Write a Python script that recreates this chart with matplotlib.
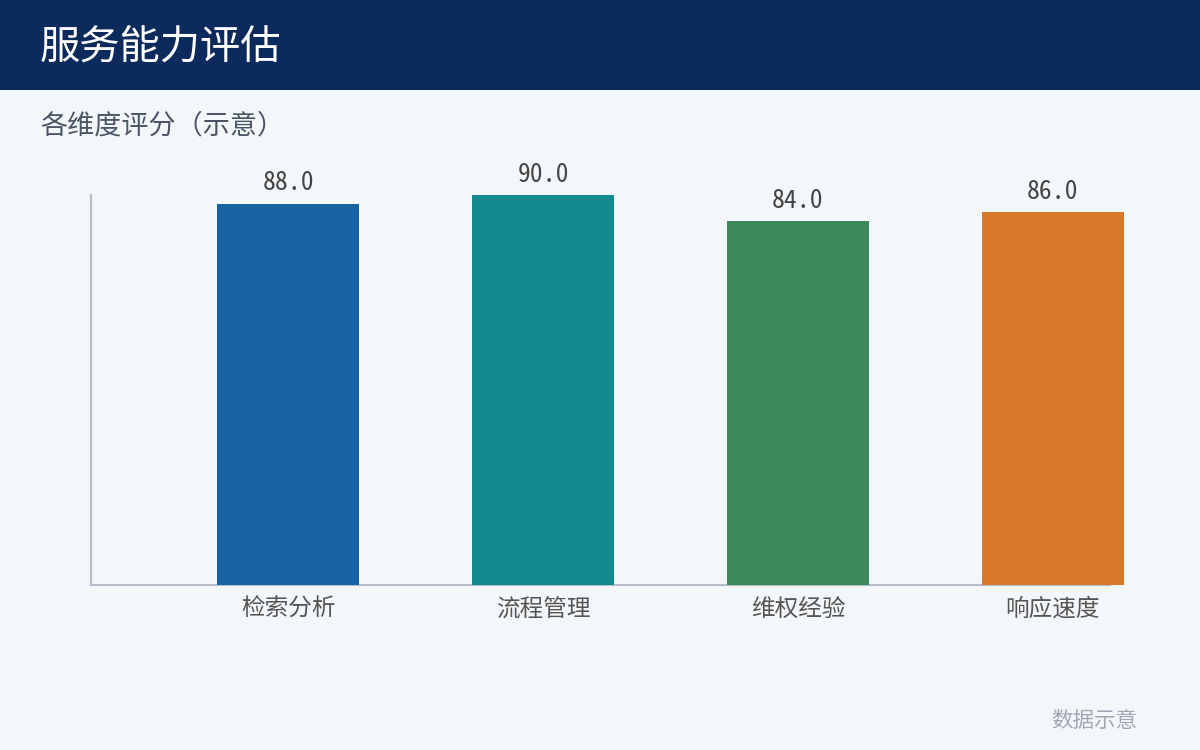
import matplotlib.pyplot as plt
from matplotlib.patches import Rectangle

plt.rcParams['font.family'] = ['Noto Sans CJK SC', 'DejaVu Sans']

# data
categories = ['检索分析', '流程管理', '维权经验', '响应速度']
scores = [88.0, 90.0, 84.0, 86.0]
bar_colors = ['#1763a3', '#138a8e', '#3a8a5a', '#d7782a']

fig = plt.figure(figsize=(12, 7.5), dpi=100)
fig.patch.set_facecolor('#f4f7fa')

# header band
fig.patches.append(Rectangle((0, 1 - 90 / 750), 1, 90 / 750, transform=fig.transFigure,
                             facecolor='#0d2a5c', edgecolor='none', zorder=0))
fig.text(40 / 1200, 1 - 47 / 750, '服务能力评估', color='white', fontsize=29,
         va='center', ha='left')
fig.text(40 / 1200, 1 - 126 / 750, '各维度评分（示意）', color='#4a5566', fontsize=19.5,
         va='center', ha='left')
fig.text(1137 / 1200, 1 - 721 / 750, '数据示意', color='#a0a8b4', fontsize=15.5,
         va='center', ha='right')

ax = fig.add_axes([91 / 1200, 1 - 585 / 750, (1110 - 91) / 1200, (585 - 195) / 750])
ax.set_facecolor('#f4f7fa')

x = range(len(categories))
bars = ax.bar(x, scores, width=0.56, color=bar_colors, zorder=3, clip_on=False)
for b, v in zip(bars, scores):
    ax.annotate(f'{v:.1f}', (b.get_x() + b.get_width() / 2, v), xytext=(0, 6),
                textcoords='offset points', ha='center', va='bottom',
                fontsize=18.5, color='#444444', annotation_clip=False,
                family=['Noto Sans Mono CJK SC', 'Noto Sans CJK SC', 'DejaVu Sans'])

ax.set_xlim(-0.773, 3.224)
ax.set_ylim(0, 90)
ax.set_xticks(list(x))
ax.set_xticklabels(categories, fontsize=17, color='#555555')
ax.tick_params(axis='x', length=0, pad=9)
ax.set_yticks([])
for s in ['top', 'right']:
    ax.spines[s].set_visible(False)
for s in ['left', 'bottom']:
    ax.spines[s].set_color('#b4bfcb')
    ax.spines[s].set_linewidth(1.5)

fig.savefig('out.png', dpi=100, facecolor=fig.get_facecolor())
